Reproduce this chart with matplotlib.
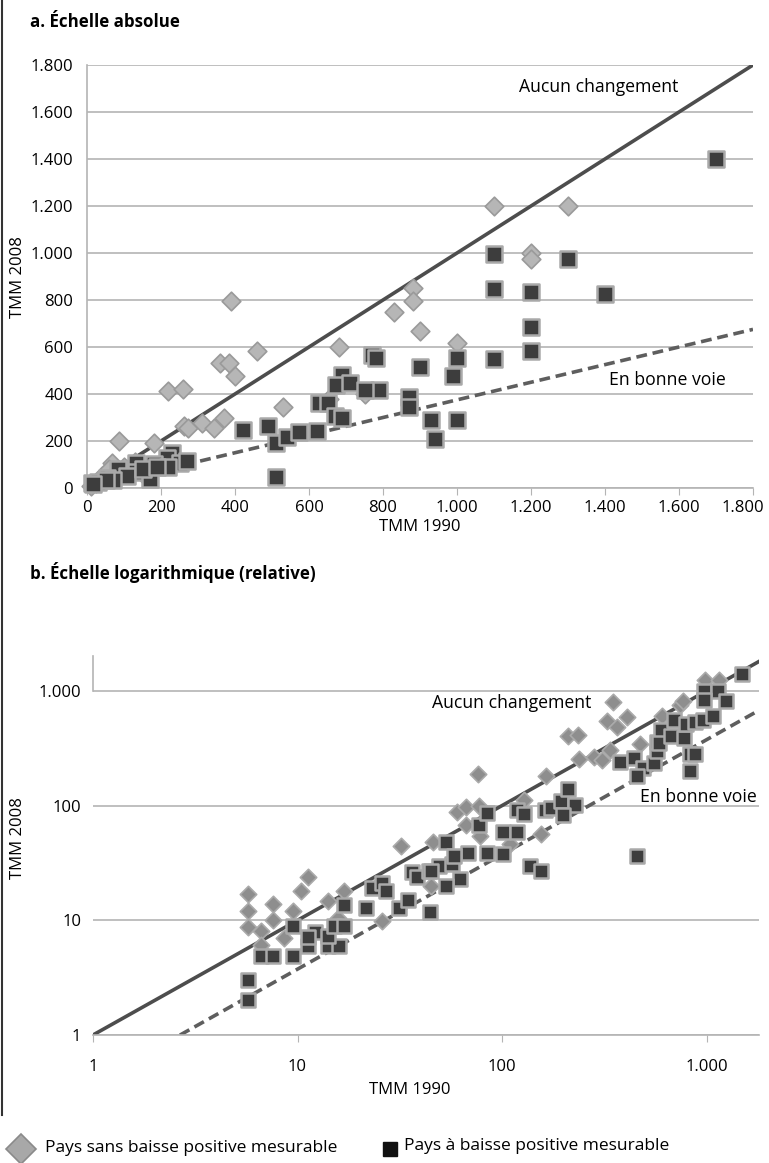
import numpy as np
import matplotlib
matplotlib.use("Agg")
import matplotlib.pyplot as plt
from matplotlib.ticker import FixedLocator, FuncFormatter, NullLocator
from matplotlib.lines import Line2D

plt.rcParams["font.family"] = ["Open Sans", "DejaVu Sans"]

# --- a. absolute scale ---
abs_sans_x = [1100, 1300, 1200, 1200, 880, 880, 830, 900, 1000, 390, 460, 360, 385, 400,
              220, 260, 680, 530, 370, 262, 274, 312, 342, 86, 181, 655, 750, 67, 40, 60,
              100, 25, 130, 150, 10]
abs_sans_y = [1200, 1200, 1000, 975, 850, 795, 750, 670, 615, 795, 585, 530, 530, 475,
              413, 420, 600, 345, 300, 265, 255, 278, 255, 198, 190, 380, 400, 105, 50, 80,
              90, 20, 110, 60, 10]
abs_avec_x = [1700, 1100, 1300, 1100, 1200, 1400, 1200, 1200, 1100, 1000, 900, 990, 790,
              870, 870, 930, 1000, 940, 770, 780, 690, 672, 711, 752, 628, 652, 670, 690,
              421, 490, 510, 540, 573, 621, 511, 230, 217, 250, 271, 181, 132, 132, 85,
              170, 220, 107, 53, 13, 31, 71, 50, 17, 150, 190]
abs_avec_y = [1400, 995, 975, 845, 835, 825, 685, 585, 548, 555, 515, 477, 415,
              388, 345, 288, 288, 208, 567, 555, 480, 438, 448, 418, 360, 360, 307, 297,
              245, 265, 190, 216, 238, 244, 45, 150, 127, 108, 117, 102, 106, 70, 80,
              37, 91, 51, 41, 23, 27, 34, 35, 18, 80, 90]

# --- b. log scale ---
log_sans_x = [5.7, 5.7, 5.7, 6.6, 6.6, 7.6, 7.6, 8.6, 9.5, 10.4, 11.3, 14.1, 16.9, 15.8,
              26, 32, 45, 46, 60, 67, 77, 67, 78, 76, 128, 155, 110, 164, 211, 236, 239,
              281, 307, 337, 350, 325, 364, 410, 473, 604, 741, 770, 979, 1147]
log_sans_y = [16.9, 12.1, 8.8, 8.0, 6.1, 13.9, 10.1, 7.0, 12.1, 18.0, 23.7, 14.7, 18.0, 10.4,
              9.9, 44, 20, 48, 88, 97, 100, 68, 54, 190, 112, 56, 46, 180, 404, 413, 257,
              267, 250, 305, 795, 545, 485, 592, 343, 610, 753, 820, 1245, 1245]
log_avec_x = [5.7, 5.7, 6.6, 7.6, 9.5, 9.5, 11.3, 12.2, 11.3, 14.1, 16.0, 14.1, 15.0, 16.9,
              16.9, 21.6, 23.2, 26.0, 27.1, 31.5, 34.8, 36.4, 38.3, 44.5, 44, 49, 57, 45,
              62, 53, 137, 155, 53, 68, 84, 101, 58, 77, 101, 118, 84, 118, 128, 162, 173,
              194, 211, 228, 198, 378, 442, 487, 554, 456, 456, 574, 571, 600, 588, 670,
              776, 830, 875, 830, 693, 794, 879, 965, 1070, 972, 1142, 972, 1250, 1495]
log_avec_y = [3.0, 2.0, 4.9, 4.9, 4.9, 8.9, 6.0, 7.9, 7.2, 6.0, 6.0, 7.3, 8.9, 8.9,
              13.6, 12.9, 19.0, 21.3, 18.0, 12.9, 15.0, 26.5, 23.7, 11.9, 27, 30, 31, 27,
              23, 20, 30, 27, 48, 39, 39, 38, 36, 68, 59, 59, 87, 92, 85, 92, 95,
              110, 139, 101, 82, 238, 261, 214, 237, 182, 36, 301, 355, 453, 349, 404,
              386, 279, 279, 200, 555, 510, 539, 552, 600, 1000, 990, 833, 822, 1400]

ref_x = [1, 1800]
ontrack_ratio = 0.375

W, H = 769, 1163
fig = plt.figure(figsize=(W / 100, H / 100), dpi=100)

def fx(px):
    return px / W

def fy(py):
    return 1 - py / H

grid_c = "#b4b4b4"
line_c = "#4d4d4d"
dash_c = "#5e5e5e"
sq_face, sq_edge = "#3d3d3d", "#a9a9a9"

def thousands(v, pos=None):
    return f"{int(round(v)):,}".replace(",", ".")

def thousands_no_last(v, pos=None):
    # the last label is drawn by hand, shifted left so it fits
    return "" if v >= 1800 else thousands(v)

# ---------- panel a ----------
ax1 = fig.add_axes([fx(87), fy(488), fx(753) - fx(87), fy(65) - fy(488)])
ax1.set_xlim(0, 1800)
ax1.set_ylim(0, 1800)
ticks = np.arange(0, 1801, 200)
ax1.xaxis.set_major_locator(FixedLocator(ticks))
ax1.yaxis.set_major_locator(FixedLocator(ticks))
ax1.xaxis.set_major_formatter(FuncFormatter(thousands_no_last))
ax1.yaxis.set_major_formatter(FuncFormatter(thousands))
ax1.grid(axis="y", color=grid_c, lw=1.2)
ax1.set_axisbelow(True)
for s in ["top", "right"]:
    ax1.spines[s].set_visible(False)
for s in ["left", "bottom"]:
    ax1.spines[s].set_color(grid_c)
    ax1.spines[s].set_linewidth(1.2)
ax1.tick_params(axis="x", length=5, color=grid_c, labelsize=12, pad=4)
ax1.tick_params(axis="y", length=0, labelsize=12, pad=10)
ax1.annotate("1.800", xy=(1800, 0), xytext=(-7, -9), textcoords="offset points",
             ha="center", va="top", fontsize=12, annotation_clip=False)

ax1.plot([0, 1800], [0, 1800], color=line_c, lw=2.6, zorder=2)
ax1.plot([0, 1800], [0, 1800 * ontrack_ratio], color=dash_c, lw=2.6, ls=(0, (3, 1.6)), zorder=2)
ax1.scatter(abs_sans_x, abs_sans_y, marker="D", s=90, facecolor="#b6b6b6", edgecolor="#9a9a9a",
            lw=1.2, zorder=3, clip_on=False)
ax1.scatter(abs_avec_x, abs_avec_y, marker="s", s=130, facecolor=sq_face, edgecolor=sq_edge,
            lw=1.8, zorder=4, clip_on=False)
ax1.text(1168, 1706, "Aucun changement", fontsize=12.7, va="center", ha="left")
ax1.text(1411, 461, "En bonne voie", fontsize=12.7, va="center", ha="left")

# ---------- panel b ----------
dec_x, dec_y = 204.5, 114.7
left_b, bot_b = 93, 1035
x_max_b, y_max_b = 1800, 2000
right_b = left_b + np.log10(x_max_b) * dec_x
top_b = bot_b - np.log10(y_max_b) * dec_y
ax2 = fig.add_axes([fx(left_b), fy(bot_b), fx(right_b) - fx(left_b), fy(top_b) - fy(bot_b)])
ax2.set_xscale("log")
ax2.set_yscale("log")
ax2.set_xlim(1, x_max_b)
ax2.set_ylim(1, y_max_b)
dec = [1, 10, 100, 1000]
ax2.xaxis.set_major_locator(FixedLocator(dec))
ax2.yaxis.set_major_locator(FixedLocator(dec))
ax2.xaxis.set_minor_locator(NullLocator())
ax2.yaxis.set_minor_locator(NullLocator())
ax2.xaxis.set_major_formatter(FuncFormatter(thousands))
ax2.yaxis.set_major_formatter(FuncFormatter(thousands))
ax2.grid(axis="y", color=grid_c, lw=1.2)
ax2.set_axisbelow(True)
for s in ["top", "right", "left"]:
    ax2.spines[s].set_visible(False)
ax2.spines["bottom"].set_color(grid_c)
ax2.spines["bottom"].set_linewidth(1.2)
ax2.tick_params(axis="x", length=5, color=grid_c, labelsize=12, pad=12)
ax2.tick_params(axis="y", length=0, labelsize=12, pad=8.5)
ax2.plot([1, 1], [1000, y_max_b], color=grid_c, lw=1.2, clip_on=False, zorder=1)

ax2.plot(ref_x, ref_x, color=line_c, lw=2.6, zorder=2)
ax2.plot(ref_x, [v * ontrack_ratio for v in ref_x], color=dash_c, lw=2.6, ls=(0, (3, 1.6)), zorder=2)
ax2.scatter(log_sans_x, log_sans_y, marker="D", s=70, facecolor="#8e8e8e", edgecolor="#aaaaaa",
            lw=1.2, zorder=3)
ax2.scatter(log_avec_x, log_avec_y, marker="s", s=110, facecolor=sq_face, edgecolor=sq_edge,
            lw=1.8, zorder=4)
ax2.text(45.5, 784, "Aucun changement", fontsize=12.7, va="center", ha="left")
ax2.text(473, 119, "En bonne voie", fontsize=12.7, va="center", ha="left")

# ---------- titles, labels, legend ----------
fig.text(fx(30), fy(22), "a. Échelle absolue", fontsize=12.2, weight="bold", va="center")
fig.text(fx(30), fy(572), "b. Échelle logarithmique (relative)", fontsize=12.2, weight="bold",
         va="center")
fig.text(fx(18), fy(277), "TMM 2008", fontsize=12, rotation=90, va="center", ha="center")
fig.text(fx(420), fy(527), "TMM 1990", fontsize=12, va="center", ha="center")
fig.text(fx(18), fy(838), "TMM 2008", fontsize=12, rotation=90, va="center", ha="center")
fig.text(fx(410), fy(1090), "TMM 1990", fontsize=12, va="center", ha="center")

fig.add_artist(Line2D([fx(1.5), fx(1.5)], [fy(0), fy(1115)], color="#333333", lw=1.5))
fig.add_artist(Line2D([fx(21)], [fy(1149)], marker="D", ms=15, mfc="#a8a8a8", mec="#8a8a8a",
                      mew=1.2, ls="none"))
fig.text(fx(45), fy(1148), "Pays sans baisse positive mesurable", fontsize=12.5, va="center")
fig.add_artist(Line2D([fx(390)], [fy(1149)], marker="s", ms=10.5, mfc="#111111", mec="#111111",
                      ls="none"))
fig.text(fx(404), fy(1146), "Pays à baisse positive mesurable", fontsize=12.5, va="center")

fig.savefig("out.png", dpi=100)
